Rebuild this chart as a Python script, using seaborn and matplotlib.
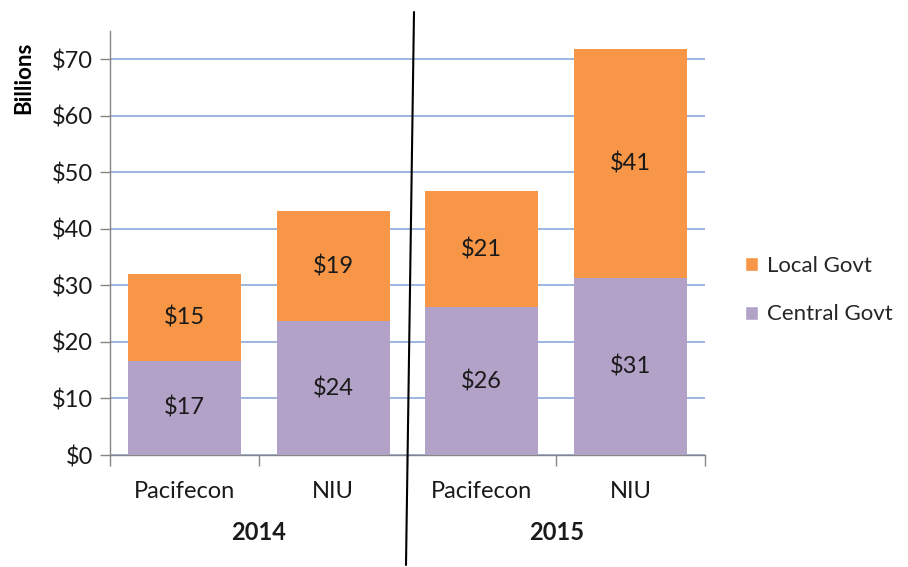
import pandas as pd
import matplotlib.pyplot as plt
import seaborn as sns
from matplotlib.patches import Patch
from matplotlib.lines import Line2D
from matplotlib.ticker import FuncFormatter, FixedLocator

sns.set_theme(style="white")
plt.rcParams['font.family'] = ['Lato', 'DejaVu Sans']

# Data (billions)
years = ["2014", "2014", "2015", "2015"]
orgs = ["Pacifecon", "NIU", "Pacifecon", "NIU"]
central = [16.7, 23.7, 26.1, 31.3]
local = [15.4, 19.4, 20.6, 40.6]

df = pd.DataFrame({"year": years, "org": orgs, "central": central, "local": local})
df["key"] = df["year"] + " " + df["org"]
df["total"] = df["central"] + df["local"]

col_local = '#F79646'
col_central = '#B3A2C7'
grey = '#868686'
txt = '#1a1a1a'
fs = 17

fig = plt.figure(figsize=(9.08, 5.67), dpi=100)
ax = fig.add_axes([0.1211, 0.1975, 0.6553, 0.7478])

sns.barplot(data=df, x="key", y="total", color=col_local, width=0.76,
            saturation=1, linewidth=0, ax=ax, zorder=3)
sns.barplot(data=df, x="key", y="central", color=col_central, width=0.76,
            saturation=1, linewidth=0, ax=ax, zorder=3)

# segment labels
for i, row in df.iterrows():
    ax.text(i, row["central"] / 2, f"${row['central']:.0f}", ha='center', va='center',
            fontsize=fs, color=txt, zorder=4)
    ax.text(i, row["central"] + row["local"] / 2, f"${row['local']:.0f}", ha='center',
            va='center', fontsize=fs, color=txt, zorder=4)

ax.set_ylim(0, 75)
ax.set_xlim(-0.5, 3.5)
ax.set_yticks(range(0, 80, 10))
ax.yaxis.set_major_formatter(FuncFormatter(lambda v, p: f"${v:.0f}"))
ax.yaxis.grid(True, color='#9DB4E0', linewidth=1.4, zorder=0)
ax.set_axisbelow(True)
ax.set_xticks(range(len(df)))
ax.set_xticklabels(df["org"])
ax.xaxis.set_minor_locator(FixedLocator([-0.5, 0.5, 1.5, 2.5, 3.5]))
ax.tick_params(axis='x', which='major', length=0, pad=19, labelsize=fs, labelcolor=txt)
ax.tick_params(axis='x', which='minor', length=8, color=grey, width=1, bottom=True)
ax.tick_params(axis='y', length=7, color=grey, width=1, labelsize=fs, labelcolor=txt,
               pad=5, left=True)
ax.set_xlabel("")
ax.set_ylabel("")
for s in ['top', 'right']:
    ax.spines[s].set_visible(False)
for s in ['left', 'bottom']:
    ax.spines[s].set_color(grey)
    ax.spines[s].set_linewidth(1)

# year group labels
for yr in ["2014", "2015"]:
    idx = df.index[df["year"] == yr]
    ax.text(idx.to_numpy().mean(), -0.182, yr, transform=ax.get_xaxis_transform(),
            ha='center', va='center', fontsize=fs, fontweight='bold', color=txt)

fig.text(24 / 908, 1 - 78 / 567, "Billions", rotation=90, ha='center', va='center',
         fontsize=16, fontweight='bold', color='black')

# divider line between years
fig.add_artist(Line2D([414 / 908, 406 / 908], [1 - 12 / 567, 1 - 565 / 567],
                      transform=fig.transFigure, color='black', linewidth=1.5))

handles = [Patch(facecolor=col_local, label="Local Govt"),
           Patch(facecolor=col_central, label="Central Govt")]
fig.legend(handles=handles, loc='center left', bbox_to_anchor=(745 / 908, 1 - 290 / 567),
           frameon=False, fontsize=16, handlelength=0.6, handleheight=0.6,
           handletextpad=0.4, labelspacing=1.3, borderpad=0, borderaxespad=0)

fig.savefig("out.png", dpi=100)
